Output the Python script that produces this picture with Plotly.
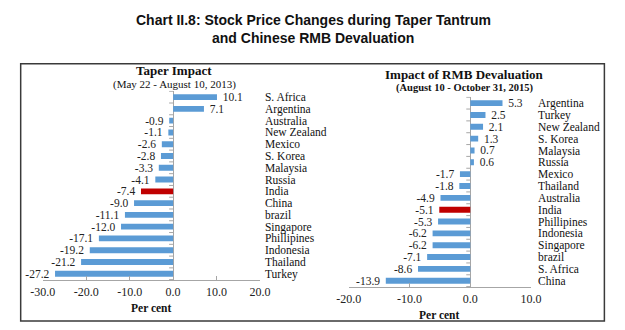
import plotly.graph_objects as go

W, H = 625, 330

# ---------------- data ----------------
left_countries = ["S. Africa", "Argentina", "Australia", "New Zealand", "Mexico", "S. Korea",
                  "Malaysia", "Russia", "India", "China", "brazil", "Singapore",
                  "Phillipines", "Indonesia", "Thailand", "Turkey"]
left_values = [10.1, 7.1, -0.9, -1.1, -2.6, -2.8, -3.3, -4.1, -7.4, -9.0, -11.1, -12.0,
               -17.1, -19.2, -21.2, -27.2]

right_countries = ["Argentina", "Turkey", "New Zealand", "S. Korea", "Malaysia", "Russia",
                   "Mexico", "Thailand", "Australia", "India", "Phillipines", "Indonesia",
                   "Singapore", "brazil", "S. Africa", "China"]
right_values = [5.3, 2.5, 2.1, 1.3, 0.7, 0.6, -1.7, -1.8, -4.9, -5.1, -5.3, -6.2, -6.2,
                -7.1, -8.6, -13.9]

left_ticks = [-30, -20, -10, 0, 10, 20]
right_ticks = [-20, -10, 0, 10]

highlight = "India"
BLUE = "#5B9BD5"
RED = "#C00000"
SERIF = "Liberation Serif, Times New Roman, serif"
SANS = "Liberation Sans, Arial, sans-serif"
NB = "\u00a0"


def px_x(p):
    return p / W


def px_y(p):
    return 1 - p / H


def colors(cats):
    return [RED if c == highlight else BLUE for c in cats]


def bar_text(v):
    s = f"{v:.1f}"
    return NB * 2 + s if v >= 0 else s + NB * 2


fig = go.Figure()
for xs, ys, xa, ya in ((left_values, left_countries, "x", "y"),
                       (right_values, right_countries, "x2", "y2")):
    fig.add_trace(go.Bar(
        x=xs, y=ys, orientation="h", xaxis=xa, yaxis=ya,
        marker=dict(color=colors(ys), line=dict(width=0)), width=0.5,
        text=[bar_text(v) for v in xs], textposition="outside", constraintext="none",
        textfont=dict(family=SERIF, size=11.5, color="#222"), cliponaxis=False,
        showlegend=False, hoverinfo="skip"))

axis_common = dict(
    showgrid=False, zeroline=True, zerolinecolor="#a6a6a6", zerolinewidth=1,
    showline=True, linecolor="#a6a6a6", linewidth=1, ticks="inside", ticklen=4,
    tickcolor="#a6a6a6", tickmode="array",
    tickfont=dict(family=SERIF, size=12, color="#222"), fixedrange=True)

yaxis_common = dict(
    type="category", autorange="reversed", side="right", showgrid=False,
    showline=False, ticks="", zeroline=False, tickmode="linear", tick0=0, dtick=1,
    tickfont=dict(family=SERIF, size=11.5, color="#111"), fixedrange=True)

fig.update_layout(
    width=W, height=H, margin=dict(l=0, r=0, t=0, b=0),
    paper_bgcolor="white", plot_bgcolor="white", bargap=0.5,
    xaxis=dict(domain=[px_x(32), px_x(257)], range=[-30, 20], tickvals=left_ticks,
               ticktext=[f"{t:.1f}" for t in left_ticks], anchor="y", **axis_common),
    yaxis=dict(domain=[px_y(281), px_y(91)], anchor="x", ticklabelstandoff=4,
               **yaxis_common),
    xaxis2=dict(domain=[px_x(349), px_x(538)], range=[-20, 10], tickvals=right_ticks,
                ticktext=[f"{t:.1f}" for t in right_ticks], anchor="y2", **axis_common),
    yaxis2=dict(domain=[px_y(288), px_y(97)], anchor="x2", ticklabelstandoff=6,
                **yaxis_common),
)

shapes = []
# category boundary tick marks on the zero line
for yref, xref, n in (("y", "x", len(left_countries)), ("y2", "x2", len(right_countries))):
    for i in range(n + 1):
        shapes.append(dict(type="line", xref=xref, yref=yref, xsizemode="pixel", xanchor=0,
                           x0=-4, x1=0, y0=i - 0.5, y1=i - 0.5,
                           line=dict(color="#a6a6a6", width=1)))
# frame around the two charts
shapes.append(dict(type="rect", xref="paper", yref="paper",
                   x0=px_x(9), x1=px_x(614), y0=px_y(322), y1=px_y(64),
                   line=dict(color="#3a3a3a", width=1.5)))
fig.update_layout(shapes=shapes)

ann = []
ann.append(dict(text="<b>Chart II.8: Stock Price Changes during Taper Tantrum</b>",
                x=px_x(312), y=px_y(20), xref="paper", yref="paper", showarrow=False,
                xanchor="center", yanchor="middle",
                font=dict(family=SANS, size=14, color="#111")))
ann.append(dict(text="<b>and Chinese RMB Devaluation</b>",
                x=px_x(312), y=px_y(38), xref="paper", yref="paper", showarrow=False,
                xanchor="center", yanchor="middle",
                font=dict(family=SANS, size=14, color="#111")))
ann.append(dict(text="<b>Taper Impact</b>", x=px_x(168), y=px_y(71), xref="paper",
                yref="paper", showarrow=False, xanchor="center", yanchor="middle",
                font=dict(family=SERIF, size=13, color="#111")))
ann.append(dict(text="(May 22 - August 10, 2013)", x=px_x(168), y=px_y(84.5),
                xref="paper", yref="paper", showarrow=False, xanchor="center",
                yanchor="middle", font=dict(family=SERIF, size=11, color="#111")))
ann.append(dict(text="<b>Impact of RMB Devaluation</b>", x=px_x(469), y=px_y(74.5),
                xref="paper", yref="paper", showarrow=False, xanchor="center",
                yanchor="middle", font=dict(family=SERIF, size=13, color="#111")))
ann.append(dict(text="<b>(August 10 - October 31, 2015)</b>", x=px_x(469), y=px_y(88),
                xref="paper", yref="paper", showarrow=False, xanchor="center",
                yanchor="middle", font=dict(family=SERIF, size=10.5, color="#111")))
for xr, yr in (("x domain", "y domain"), ("x2 domain", "y2 domain")):
    ann.append(dict(text="<b>Per cent</b>", x=0.5, y=0, xref=xr, yref=yr, yshift=-28,
                    showarrow=False, xanchor="center", yanchor="middle",
                    font=dict(family=SERIF, size=11.5, color="#111")))
fig.update_layout(annotations=ann)

fig.write_html("out.html")
